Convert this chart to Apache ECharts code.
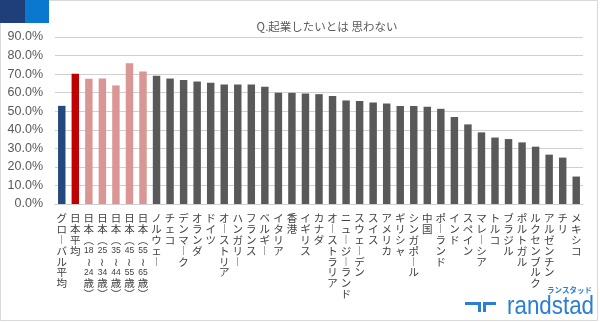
<!DOCTYPE html>
<html><head><meta charset="utf-8">
<script src="https://cdn.jsdelivr.net/npm/echarts@6/dist/echarts.min.js"></script>
<style>html,body{margin:0;padding:0;background:#fff}#c{width:600px;height:322px}</style>
</head><body><div id="c"></div>
<script>
const categories = ['グローバル平均','日本平均','日本(18~24歳)','日本(25~34歳)','日本(35~44歳)','日本(45~55歳)','日本(55~65歳)',
 'ノルウェー','チェコ','デンマーク','オランダ','ドイツ','オーストリア','ハンガリー','フランス','ベルギー','イタリア','香港',
 'イギリス','カナダ','オーストラリア','ニュージーランド','スウェーデン','スイス','アメリカ','ギリシャ','シンガポール','中国',
 'ポーランド','インド','スペイン','マレーシア','トルコ','ブラジル','ポルトガル','ルクセンブルク','アルゼンチン','チリ','メキシコ'];
const values = [52.9,70.2,67.5,67.6,63.9,75.9,71.4,
 69.1,67.6,66.8,66.0,65.3,64.4,64.4,64.4,63.2,59.9,59.9,
 59.6,59.2,58.2,55.8,55.5,54.7,54.2,52.8,52.8,52.4,
 51.3,46.9,42.9,38.6,35.8,35.0,33.2,30.9,26.6,25.0,14.8];
const yTicks = [0,10,20,30,40,50,60,70,80,90];
const title = 'Q.起業したいとは 思わない';

function colorFor(name){
  if(name==='グローバル平均') return '#24497f';
  if(name==='日本平均') return '#c00000';
  if(name.indexOf('日本(')===0) return '#d99694';
  return '#595959';
}
const vmap = {'ー':'︱','(':'︵',')':'︶','~':'≀'};
function vertical(s){
  const out=[]; let buf='';
  for(const ch of s){
    if(/[0-9]/.test(ch)){buf+=ch;continue;}
    if(buf){out.push('{d|'+buf+'}');buf='';}
    out.push(vmap[ch]||ch);
  }
  if(buf) out.push('{d|'+buf+'}');
  return out.join('\n');
}
const chart = echarts.init(document.getElementById('c'),null,{renderer:'canvas'});
chart.setOption({
  backgroundColor:'#fff',
  animation:false,
  title:{text:title,left:322,textAlign:'center',top:16,textStyle:{fontSize:11.5,fontWeight:'normal',color:'#595959',fontFamily:'Noto Sans CJK JP'}},
  grid:{left:55,right:17,top:37,bottom:118},
  xAxis:{type:'category',data:categories,
    axisLine:{lineStyle:{color:'#d0d0d0'}},axisTick:{show:false},
    axisLabel:{interval:0,margin:9,formatter:vertical,fontSize:10.5,lineHeight:10.8,color:'#404040',
      fontFamily:'Noto Sans CJK JP',verticalAlign:'top',align:'center',
      rich:{d:{fontSize:8.5,lineHeight:10.8,color:'#404040',fontFamily:'Liberation Sans'}}}},
  yAxis:{type:'value',min:yTicks[0],max:yTicks[yTicks.length-1],interval:10,
    axisLine:{show:false},axisTick:{show:false},
    splitLine:{lineStyle:{color:'#d0d0d0'}},
    axisLabel:{formatter:v=>v.toFixed(1)+'%',fontSize:12.5,color:'#595959',margin:12,fontFamily:'Liberation Sans'}},
  series:[{type:'bar',barWidth:'55%',
    data:values.map((v,i)=>({value:v,itemStyle:{color:colorFor(categories[i])}}))}],
  graphic:[
    {type:'rect',shape:{x:0.5,y:0.5,width:597,height:320},style:{fill:'none',stroke:'#d9d9d9',lineWidth:1},z:-1},
    {type:'rect',shape:{x:0,y:0,width:25,height:23},style:{fill:'#1f3f7a'}},
    {type:'rect',shape:{x:25,y:0,width:24,height:23},style:{fill:'#0b78d0'}},
    {type:'text',x:592,y:286,style:{text:'ランスタッド',fontSize:7.5,fontWeight:'bold',fill:'#2a7fd4',align:'right',fontFamily:'Noto Sans CJK JP'}},
    {type:'text',x:507,y:294,scaleX:0.86,style:{text:'randstad',fontSize:26,fill:'#2a7fd4',fontFamily:'Liberation Sans'}},
    {type:'polygon',shape:{points:[[465,302],[481,302],[481,312],[478,312],[478,305],[465,305]]},style:{fill:'#2a7fd4'}},
    {type:'polygon',shape:{points:[[483,302],[496,302],[496,305],[486,305],[486,312],[483,312]]},style:{fill:'#2a7fd4'}}
  ]
});
</script></body></html>
